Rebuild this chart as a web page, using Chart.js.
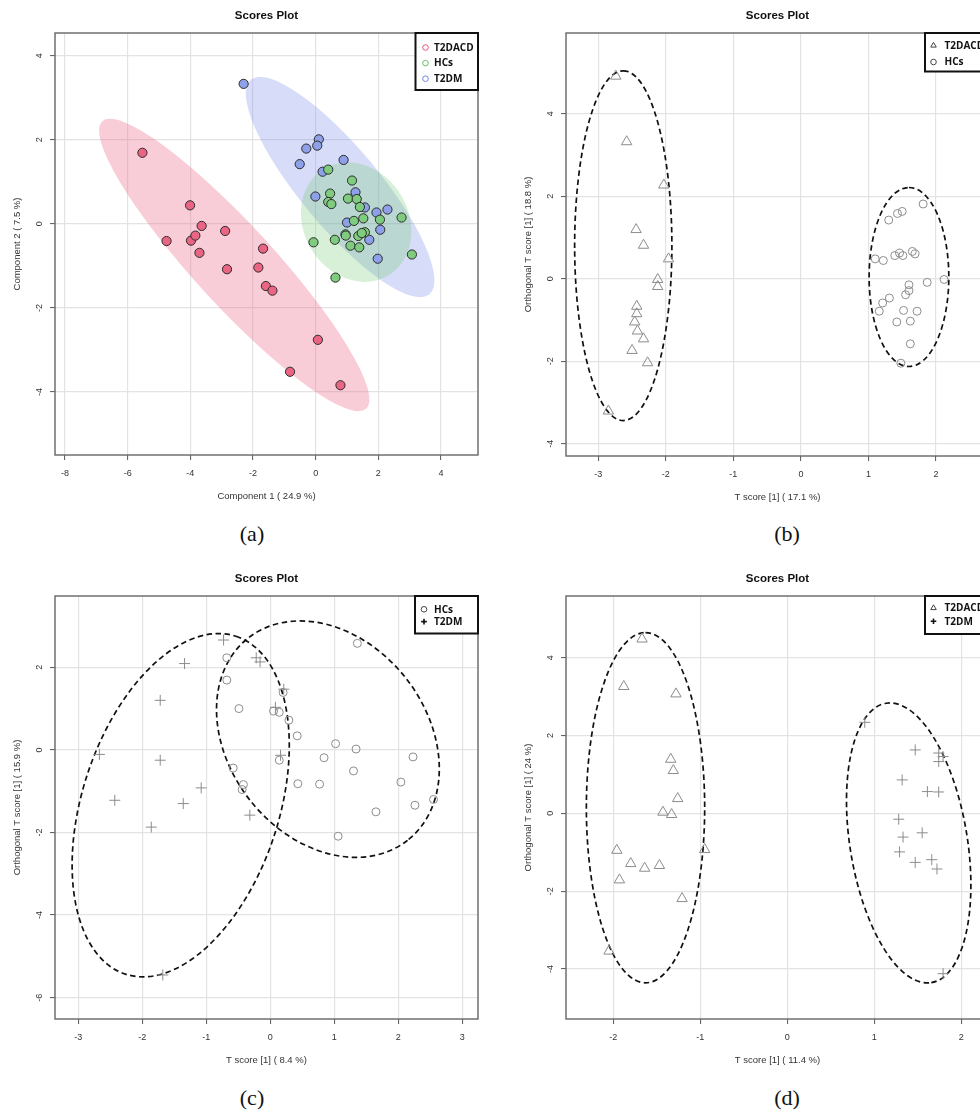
<!DOCTYPE html>
<html>
<head>
<meta charset="utf-8">
<script src="https://cdn.jsdelivr.net/npm/chart.js@4.4.0/dist/chart.umd.min.js"></script>
<style>
html, body { margin: 0; padding: 0; width: 980px; height: 1112px; overflow: hidden; background: #fff; }
canvas { position: absolute; }
.tag { position: absolute; font-family: "Liberation Serif", "DejaVu Serif", serif; font-size: 22px; color: #111; transform: translate(-50%, -50%); }
</style>
</head>
<body>
<canvas id="chartA"></canvas>
<canvas id="chartB"></canvas>
<canvas id="chartC"></canvas>
<canvas id="chartD"></canvas>
<div class="tag" style="left:252px;top:534px">(a)</div>
<div class="tag" style="left:787px;top:534px">(b)</div>
<div class="tag" style="left:252px;top:1098px">(c)</div>
<div class="tag" style="left:787px;top:1098px">(d)</div>
<script>
// ---- data ----
// (a) PLS-DA scores
const aT2DACD = [[-5.53,1.69],[-4.01,0.44],[-3.64,-0.05],[-4.76,-0.41],[-3.98,-0.40],[-3.84,-0.28],[-3.71,-0.69],[-2.89,-0.17],
  [-1.68,-0.59],[-2.83,-1.08],[-1.83,-1.04],[-1.59,-1.48],[-1.38,-1.59],[0.07,-2.76],[-0.82,-3.52],[0.79,-3.84]];
const aHCs = [[0.40,1.29],[1.16,1.03],[0.46,0.72],[0.40,0.52],[0.50,0.47],[1.03,0.60],[1.31,0.59],[1.41,0.40],[1.52,0.13],
  [1.22,0.07],[2.05,0.10],[2.74,0.15],[-0.07,-0.44],[0.61,-0.38],[0.95,-0.25],[0.96,-0.28],[1.36,-0.29],[1.57,-0.20],
  [1.47,-0.22],[1.11,-0.52],[1.39,-0.56],[3.07,-0.73],[0.63,-1.28]];
const aT2DM = [[-2.30,3.33],[0.10,2.01],[0.05,1.86],[-0.30,1.79],[-0.51,1.42],[0.89,1.52],[0.22,1.24],[-0.01,0.65],
  [1.27,0.75],[1.57,0.39],[1.94,0.27],[2.29,0.34],[1.00,0.03],[2.06,-0.14],[1.71,-0.38],[1.98,-0.83]];
// ellipses: [centre x, centre y, semi-axis u (x, y), semi-axis v (x, y)]
const aEllT2DACD = [-2.60, -0.98, 4.21, -3.42, 0.94, 0.64];
const aEllT2DM = [0.78, 0.875, 2.85, -2.55, 0.97, 0.60];
const aEllHCs = [1.29, 0.04, 1.00, -1.28, 1.45, 0.62];

// (b) OPLS-DA T2DACD vs HCs
const bT2DACD = [[-2.74,4.91],[-2.58,3.32],[-2.03,2.27],[-2.44,1.19],[-2.33,0.81],[-1.96,0.48],[-2.12,-0.02],[-2.12,-0.19],
  [-2.43,-0.67],[-2.43,-0.85],[-2.46,-1.05],[-2.42,-1.27],[-2.33,-1.46],[-2.50,-1.74],[-2.27,-2.04],[-2.85,-3.21]];
const bHCs = [[1.81,1.81],[1.50,1.63],[1.43,1.58],[1.30,1.42],[1.10,0.48],[1.22,0.44],[1.39,0.56],[1.46,0.62],[1.51,0.56],
  [1.65,0.66],[1.69,0.60],[1.87,-0.09],[2.12,-0.02],[1.60,-0.15],[1.60,-0.29],[1.55,-0.39],[1.31,-0.47],[1.21,-0.59],
  [1.16,-0.79],[1.52,-0.77],[1.72,-0.79],[1.42,-1.05],[1.62,-1.03],[1.62,-1.58],[1.48,-2.05]];
const bEllT2DACD = [-2.63, 0.80, 0, 4.24, 0.72, 0];
const bEllHCs = [1.60, 0.04, 0, 2.17, 0.59, 0];

// (c) OPLS-DA HCs vs T2DM
const cHCs = [[1.36,2.58],[-0.68,2.23],[-0.68,1.69],[-0.49,1.00],[0.05,0.94],[0.14,0.91],[0.20,1.39],[0.29,0.72],[0.42,0.34],
  [1.02,0.15],[1.34,0.02],[0.84,-0.19],[2.23,-0.17],[0.14,-0.25],[-0.58,-0.44],[1.30,-0.51],[-0.42,-0.84],[-0.44,-0.96],
  [0.43,-0.82],[0.77,-0.83],[2.04,-0.78],[2.55,-1.20],[2.26,-1.34],[1.65,-1.50],[1.06,-2.09]];
const cT2DM = [[-0.73,2.66],[-1.34,2.09],[-0.22,2.23],[-0.16,2.13],[-1.72,1.20],[0.21,1.47],[0.08,1.03],[-2.67,-0.11],
  [-1.72,-0.25],[0.16,-0.13],[-1.08,-0.92],[-2.43,-1.22],[-1.36,-1.30],[-0.32,-1.58],[-1.86,-1.87],[-1.68,-5.45]];
const cEllT2DM = [-1.40, -1.34, 0.864, 4.09, 1.46, -0.74];
const cEllHCs = [0.90, 0.26, 1.244, -2.45, -1.217, -1.48];

// (d) OPLS-DA T2DACD vs T2DM
const dT2DACD = [[-1.67,4.48],[-1.88,3.26],[-1.28,3.07],[-1.34,1.39],[-1.31,1.10],[-1.26,0.38],[-1.43,0.03],[-1.33,-0.03],
  [-1.96,-0.95],[-0.95,-0.93],[-1.80,-1.29],[-1.64,-1.41],[-1.47,-1.34],[-1.93,-1.71],[-1.21,-2.19],[-2.05,-3.54]];
const dT2DM = [[0.89,2.34],[1.47,1.63],[1.74,1.55],[1.79,1.46],[1.74,1.33],[1.32,0.86],[1.61,0.56],[1.74,0.55],
  [1.28,-0.15],[1.55,-0.50],[1.33,-0.61],[1.29,-0.99],[1.47,-1.26],[1.66,-1.19],[1.72,-1.43],[1.79,-4.12]];
const dEllT2DACD = [-1.63, 0.145, 0, 4.50, 0.68, 0];
const dEllT2DM = [1.395, -0.76, 0.26, -3.59, 0.666, 0.241];

// axis ranges [min, max, step]
const aX = [-8.32, 5.18, 2], aY = [-5.50, 4.54, 2];
const bX = [-3.478, 2.785, 1], bY = [-4.30, 5.956, 2];
const cX = [-3.364, 3.245, 1], cY = [-6.516, 3.726, 2];
const dX = [-2.544, 2.318, 1], dY = [-5.285, 5.586, 2];

const axisTitles = {
  a: ['Component 1 ( 24.9 %)', 'Component 2 ( 7.5 %)'],
  b: ['T score [1] ( 17.1 %)', 'Orthogonal T score [1] ( 18.8 %)'],
  c: ['T score [1] ( 8.4 %)', 'Orthogonal T score [1] ( 15.9 %)'],
  d: ['T score [1] ( 11.4 %)', 'Orthogonal T score [1] ( 24 %)']
};

// ---- drawing ----
Chart.defaults.font.family = '"Liberation Sans", Arial, sans-serif';
Chart.defaults.color = '#333';
const LEGEND_FONT = 'bold 10px "Open Sans", "Liberation Sans", sans-serif';
const GREY = '#8c8c8c';

// extras kept outside chart options so Chart.js does not proxy them
const extras = {};

const ellipsePlugin = {
  id: 'ellipses',
  beforeDatasetsDraw(chart) {
    const items = (extras[chart.canvas.id] || {}).ellipses || [];
    const {ctx, chartArea: ca, scales: {x, y}} = chart;
    ctx.save();
    ctx.beginPath();
    ctx.rect(ca.left, ca.top, ca.width, ca.height);
    ctx.clip();
    items.forEach(e => {
      const p = e.p;
      const cx = x.getPixelForValue(p[0]), cy = y.getPixelForValue(p[1]);
      const ux = x.getPixelForValue(p[0] + p[2]) - cx, uy = y.getPixelForValue(p[1] + p[3]) - cy;
      const vx = x.getPixelForValue(p[0] + p[4]) - cx, vy = y.getPixelForValue(p[1] + p[5]) - cy;
      ctx.save();
      ctx.beginPath();
      ctx.transform(ux, uy, vx, vy, cx, cy);
      ctx.arc(0, 0, 1, 0, Math.PI * 2);
      ctx.restore();
      if (e.fill) { ctx.fillStyle = e.fill; ctx.fill(); }
      if (e.stroke) {
        ctx.setLineDash([5.5, 3.5]);
        ctx.lineWidth = 1.7;
        ctx.strokeStyle = e.stroke;
        ctx.stroke();
        ctx.setLineDash([]);
      }
    });
    ctx.beginPath();
    ctx.restore();
  }
};

const framePlugin = {
  id: 'frame',
  beforeDatasetsDraw(chart) {
    const {ctx, chartArea: ca} = chart;
    ctx.save();
    ctx.strokeStyle = '#666';
    ctx.lineWidth = 1.4;
    ctx.strokeRect(ca.left, ca.top, ca.width, ca.height);
    ctx.restore();
  }
};

const boxLegend = {
  id: 'boxLegend',
  afterDatasetsDraw(chart) {
    const o = (extras[chart.canvas.id] || {}).legend;
    if (!o) return;
    const {ctx, chartArea: ca} = chart;
    const x0 = ca.right - o.w, y0 = ca.top;
    ctx.save();
    ctx.fillStyle = '#fff';
    ctx.fillRect(x0, y0, o.w, o.h);
    ctx.lineWidth = 2;
    ctx.strokeStyle = '#111';
    ctx.strokeRect(x0, y0, o.w, o.h);
    ctx.font = LEGEND_FONT;
    ctx.textBaseline = 'middle';
    ctx.textAlign = 'left';
    o.items.forEach((it, i) => {
      const yy = y0 + o.first + i * o.gap;
      ctx.lineWidth = it.lw || 1;
      ctx.strokeStyle = it.color;
      ctx.fillStyle = 'rgba(0,0,0,0)';
      Chart.helpers.drawPoint(ctx, {pointStyle: it.style, radius: it.r || 2.8, borderWidth: ctx.lineWidth, rotation: 0}, x0 + o.symX, yy);
      ctx.fillStyle = '#111';
      ctx.fillText(it.label, x0 + o.textX, yy + 0.5);
    });
    ctx.restore();
  }
};

function pts(arr) { return arr.map(([x, y]) => ({x, y})); }

function axis(r, title, isY) {
  const ticks = {stepSize: r[2], includeBounds: false, font: {size: 9}, color: '#333'};
  if (isY) Object.assign(ticks, {minRotation: 90, maxRotation: 90, crossAlign: 'center', padding: 6});
  else Object.assign(ticks, {autoSkip: false, maxRotation: 0, padding: 8.5});
  return {
    type: 'linear', min: r[0], max: r[1],
    afterFit: s => { if (isY) s.width = 55; else s.height = 47; },
    border: {display: false},
    grid: {color: '#e3e3e3', lineWidth: 1.2, tickColor: '#555', tickLength: 5, tickWidth: 1},
    ticks,
    title: {display: true, text: title, font: {size: 9.5}, color: '#333',
      padding: isY ? {top: 11.3, bottom: 0} : {top: 0, bottom: 0}}
  };
}

function buildPanel(id, area, xr, yr, titles, datasets, ellipses, legend) {
  const cv = document.getElementById(id);
  const W = area.r - area.l + 67, H = area.b - area.t + 80;
  cv.width = W; cv.height = H;
  cv.style.width = W + 'px'; cv.style.height = H + 'px';
  cv.style.left = (area.l - 55) + 'px'; cv.style.top = (area.t - 33) + 'px';
  extras[id] = {ellipses, legend};
  return new Chart(cv, {
    type: 'scatter',
    data: {datasets},
    options: {
      responsive: false,
      animation: false,
      layout: {padding: {left: 0, right: 12, top: 0, bottom: 0}},
      plugins: {
        legend: {display: false},
        tooltip: {enabled: false},
        title: {display: true, text: 'Scores Plot', fullSize: false, color: '#111',
          font: {size: 11.5, weight: 'bold'}, padding: {top: 9.1, bottom: 10.1}}
      },
      scales: {x: axis(xr, titles[0], false), y: axis(yr, titles[1], true)}
    },
    plugins: [ellipsePlugin, framePlugin, boxLegend]
  });
}

function filled(label, data, color) {
  return {label, data: pts(data), pointRadius: 4.6, pointBackgroundColor: color,
    pointBorderColor: '#2b2b2b', pointBorderWidth: 1, showLine: false};
}
function hollow(label, data, style, r) {
  return {label, data: pts(data), pointStyle: style, pointRadius: r, pointBackgroundColor: 'rgba(0,0,0,0)',
    pointBorderColor: GREY, pointBorderWidth: 1, showLine: false};
}

// (a)
buildPanel('chartA', {l: 55, t: 33, r: 478, b: 455}, aX, aY, axisTitles.a,
  [filled('T2DACD', aT2DACD, '#ea6584'), filled('HCs', aHCs, '#7fcc7f'), filled('T2DM', aT2DM, '#8ea0e8')],
  [{p: aEllT2DACD, fill: 'rgba(236,100,130,0.32)'},
   {p: aEllT2DM, fill: 'rgba(110,130,230,0.28)'},
   {p: aEllHCs, fill: 'rgba(110,200,110,0.28)'}],
  {w: 62.5, h: 57, first: 14.5, gap: 15.6, symX: 10, textX: 18.5, items: [
    {label: 'T2DACD', style: 'circle', color: '#ea5577'},
    {label: 'HCs', style: 'circle', color: '#66c266'},
    {label: 'T2DM', style: 'circle', color: '#6f86e0'}]});

// (b)
buildPanel('chartB', {l: 566, t: 33, r: 989, b: 456}, bX, bY, axisTitles.b,
  [hollow('T2DACD', bT2DACD, 'triangle', 6), hollow('HCs', bHCs, 'circle', 4)],
  [{p: bEllT2DACD, stroke: '#111'}, {p: bEllHCs, stroke: '#111'}],
  {w: 64, h: 38.5, first: 12.5, gap: 16.5, symX: 8.5, textX: 19.5, items: [
    {label: 'T2DACD', style: 'triangle', color: '#444', r: 3.2},
    {label: 'HCs', style: 'circle', color: '#444', r: 2.8}]});

// (c)
buildPanel('chartC', {l: 55, t: 596, r: 478, b: 1019}, cX, cY, axisTitles.c,
  [hollow('HCs', cHCs, 'circle', 4), hollow('T2DM', cT2DM, 'cross', 5.5)],
  [{p: cEllT2DM, stroke: '#111'}, {p: cEllHCs, stroke: '#111'}],
  {w: 63, h: 37.5, first: 13.3, gap: 12.3, symX: 9, textX: 19, items: [
    {label: 'HCs', style: 'circle', color: '#444', r: 2.8},
    {label: 'T2DM', style: 'cross', color: '#111', r: 2.8, lw: 1.6}]});

// (d)
buildPanel('chartD', {l: 566, t: 596, r: 989, b: 1019}, dX, dY, axisTitles.d,
  [hollow('T2DACD', dT2DACD, 'triangle', 6), hollow('T2DM', dT2DM, 'cross', 5.5)],
  [{p: dEllT2DACD, stroke: '#111'}, {p: dEllT2DM, stroke: '#111'}],
  {w: 64, h: 38, first: 12, gap: 13.3, symX: 8.5, textX: 19.5, items: [
    {label: 'T2DACD', style: 'triangle', color: '#444', r: 3.2},
    {label: 'T2DM', style: 'cross', color: '#111', r: 2.8, lw: 1.6}]});
</script>
</body>
</html>
